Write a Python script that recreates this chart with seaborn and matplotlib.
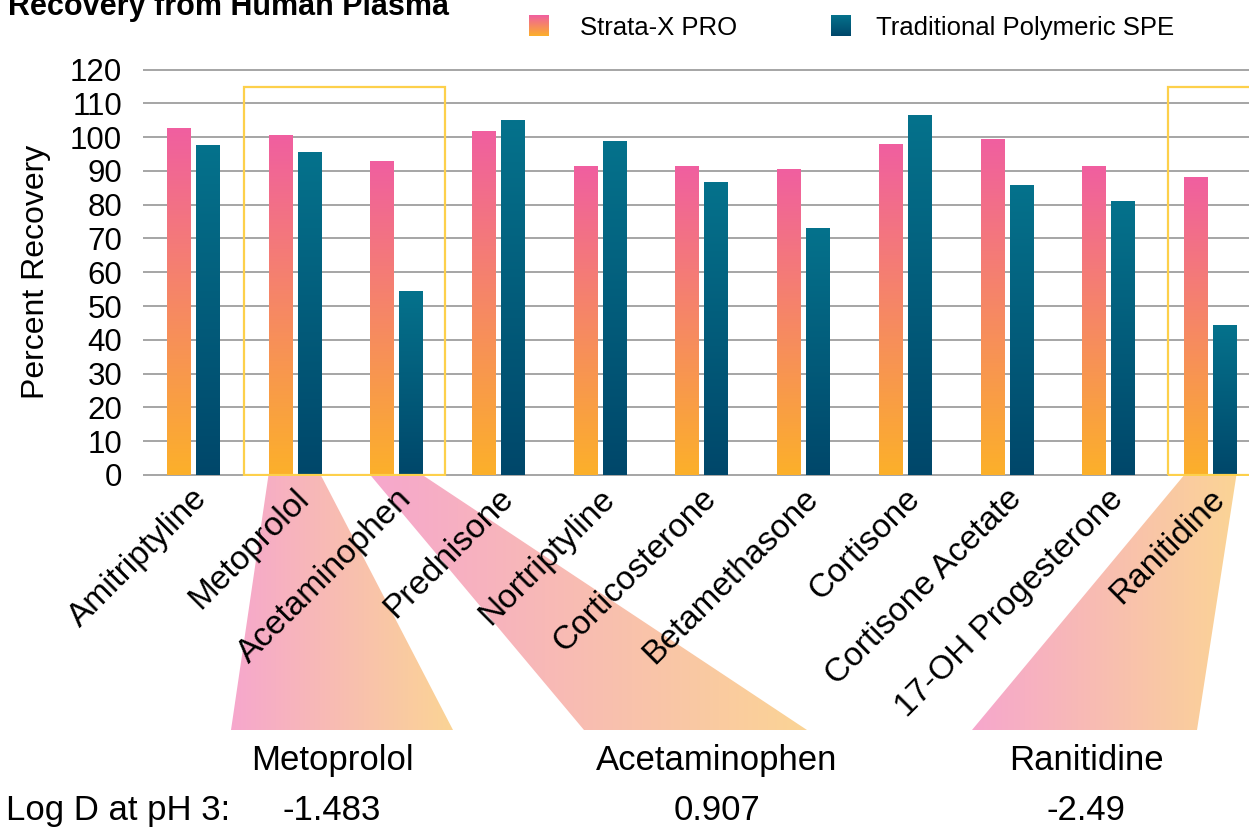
import numpy as np
import pandas as pd
import matplotlib
matplotlib.use("Agg")
import matplotlib.pyplot as plt
import seaborn as sns
from matplotlib.colors import LinearSegmentedColormap
from matplotlib.patches import Polygon, Rectangle
from matplotlib.transforms import ScaledTranslation

# data
compounds = ["Amitriptyline", "Metoprolol", "Acetaminophen", "Prednisone", "Nortriptyline",
             "Corticosterone", "Betamethasone", "Cortisone", "Cortisone Acetate",
             "17-OH Progesterone", "Ranitidine"]
strata = [102.5, 100.4, 92.7, 101.6, 91.3, 91.3, 90.4, 97.8, 99.3, 91.3, 88.0]
traditional = [97.5, 95.4, 54.2, 104.9, 98.7, 86.5, 72.9, 106.4, 85.6, 80.9, 44.1]
methods = ["Strata-X PRO", "Traditional Polymeric SPE"]
highlight = ["Metoprolol", "Acetaminophen", "Ranitidine"]
log_d = ["-1.483", "0.907", "-2.49"]
y_ticks = list(range(0, 130, 10))

df = pd.DataFrame({
    "Compound": compounds * 2,
    "Recovery": strata + traditional,
    "Method": [methods[0]] * len(compounds) + [methods[1]] * len(compounds),
})

sns.set_theme(style="white")
plt.rcParams["font.family"] = ["Liberation Sans", "DejaVu Sans"]
plt.rcParams["text.color"] = "black"
plt.rcParams["axes.labelcolor"] = "black"

W, H = 1249, 827
fig = plt.figure(figsize=(W / 100, H / 100), dpi=100)

# full-figure pixel canvas for annotations
bg = fig.add_axes([0, 0, 1, 1], zorder=0)
bg.axis("off")

ax = fig.add_axes([143 / W, 1 - 476 / H, 1 - 143 / W, (476 - 68.5) / H], zorder=1)
ax.patch.set_alpha(0)

top_cols = ["#F05FA0", "#05728C"]
bot_cols = ["#FCB02A", "#00476A"]
sns.barplot(data=df, x="Compound", y="Recovery", hue="Method", width=0.57, gap=0.2,
            palette=top_cols, saturation=1, legend=False, ax=ax)

grad = np.linspace(1, 0, 256).reshape(-1, 1)
for i, cont in enumerate(ax.containers):
    cmap = LinearSegmentedColormap.from_list(f"g{i}", [bot_cols[i], top_cols[i]])
    for bar in cont:
        x0, w, h = bar.get_x(), bar.get_width(), bar.get_height()
        ax.imshow(grad, cmap=cmap, extent=[x0, x0 + w, 0, h], aspect="auto",
                  origin="upper", zorder=2)
        bar.set_facecolor("none")
        bar.set_edgecolor("none")

ax.set_xlim(-0.49, 10.38)
ax.set_ylim(-0.3, 120.3)
ax.set_yticks(y_ticks)
ax.yaxis.grid(True, color="#9E9E9E", lw=1.3)
ax.set_axisbelow(True)
for s in ax.spines.values():
    s.set_visible(False)

ax.set_xlabel("")
ax.set_ylabel("Percent Recovery", fontsize=23)
ax.yaxis.set_label_coords(-0.083, 0.5)
ax.tick_params(axis="y", length=0, pad=15, labelsize=22.5, labelcolor="black")
ax.tick_params(axis="x", length=0, pad=13, labelsize=24, labelcolor="black")
shift = ScaledTranslation(10 / 100, 0, fig.dpi_scale_trans)
for lab in ax.get_xticklabels():
    lab.set_rotation(45)
    lab.set_ha("right")
    lab.set_va("center")
    lab.set_rotation_mode("anchor")
    lab.set_transform(lab.get_transform() + shift)

# highlight boxes
for x0, x1 in [(0.5, 2.48), (9.58, 10.6)]:
    ax.add_patch(Rectangle((x0, 0), x1 - x0, 114.8, fill=False, edgecolor="#FDD04B",
                           lw=1.6, zorder=3))

bg.set_xlim(0, W)
bg.set_ylim(H, 0)
to_bg = ax.transData + bg.transData.inverted()

# trapezoids linking highlighted compounds to their Log D labels
trap_cmap = LinearSegmentedColormap.from_list("trap", ["#F6A7CD", "#FBD495"])
trap_bottom = [(231, 453), (584, 807), (972, 1197)]
for name, (bl, br) in zip(highlight, trap_bottom):
    i = compounds.index(name)
    left = ax.containers[0][i].get_x()
    right = ax.containers[1][i].get_x() + ax.containers[1][i].get_width()
    (tl, ty), (tr, _) = to_bg.transform([(left, 0), (right, 0)])
    pts = [(tl, ty), (tr, ty), (br, 730), (bl, 730)]
    poly = Polygon(pts, closed=True, facecolor="none", edgecolor="none")
    bg.add_patch(poly)
    xmin, xmax = min(tl, bl), max(tr, br)
    im = bg.imshow(np.linspace(0, 1, 256).reshape(1, -1), cmap=trap_cmap,
                   extent=[xmin, xmax, 730, ty], aspect="auto")
    im.set_clip_path(poly)

# labels under the trapezoids
for name, val, cx in zip(highlight, log_d, [332, 717, 1086]):
    bg.text(cx, 770, name, ha="center", va="baseline", fontsize=25)
    bg.text(cx, 820, val, ha="center", va="baseline", fontsize=25)
bg.text(6, 820, "Log D at pH 3:", ha="left", va="baseline", fontsize=25)

# legend with gradient swatches
for i, (sx, tx) in enumerate([(529, 580), (831, 876)]):
    cmap = LinearSegmentedColormap.from_list(f"l{i}", [bot_cols[i], top_cols[i]])
    bg.imshow(grad, cmap=cmap, extent=[sx, sx + 20, 36, 15], aspect="auto", origin="upper")
    bg.text(tx, 35, methods[i], ha="left", va="baseline", fontsize=18.5)

bg.text(8, 15, "Recovery from Human Plasma", ha="left", va="baseline",
        fontsize=22, fontweight="bold")

bg.set_xlim(0, W)
bg.set_ylim(H, 0)
fig.savefig("out.png", dpi=100)
